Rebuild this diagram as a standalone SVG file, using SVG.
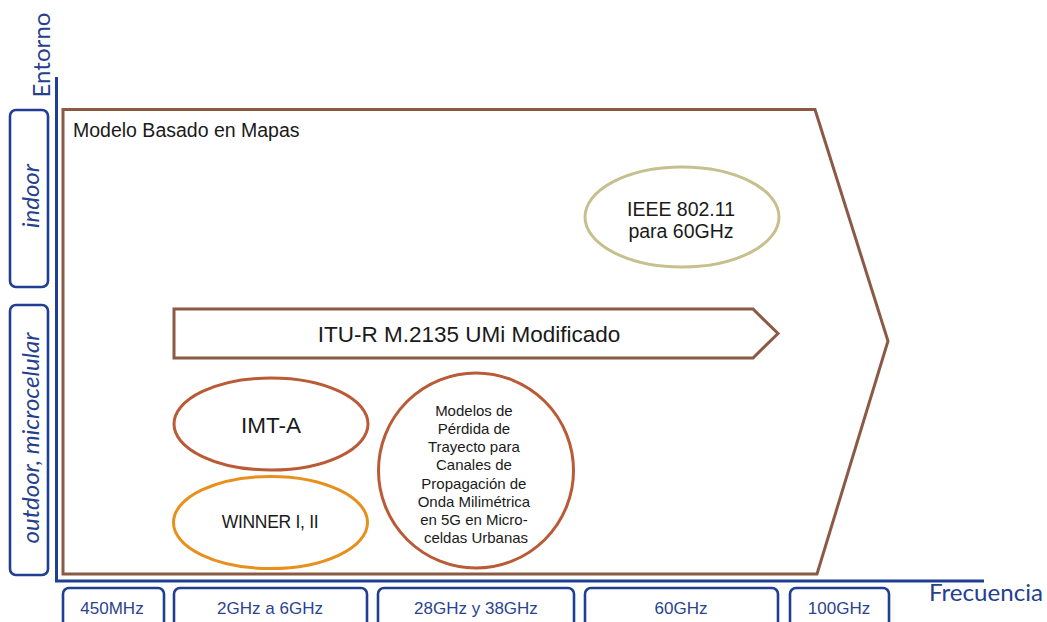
<svg xmlns="http://www.w3.org/2000/svg" width="1047" height="622" viewBox="0 0 1047 622">
<style>
.bl{fill:none;stroke:#213F92;stroke-width:2.6}
.ax{fill:none;stroke:#213F92;stroke-width:3}
.br{fill:#fff;stroke:#8C5A44;stroke-width:3;stroke-linejoin:miter}
.t{font-family:"Liberation Sans",Arial,sans-serif;fill:#1a1a1a;text-anchor:middle}
.ft{font-family:"Liberation Sans",Arial,sans-serif;fill:#2B428F;text-anchor:middle;font-size:17px}
.ax-t{font-family:Lato,"Open Sans",sans-serif;fill:#24408E;text-anchor:middle}
.it{font-family:Lato,"Open Sans",sans-serif;fill:#24408E;text-anchor:middle;font-style:italic;font-size:24px}
</style>
<rect width="1047" height="622" fill="#fff"/>
<g id="axes">
<path class="ax" d="M56.5,77 V581 H984"/>
<text class="ax-t" font-size="23" textLength="85" lengthAdjust="spacingAndGlyphs" transform="translate(50,55) rotate(-90)">Entorno</text>
<text class="ax-t" font-size="23" x="986" y="601" textLength="114" lengthAdjust="spacingAndGlyphs">Frecuencia</text>
</g>
<g id="env-indoor">
<rect class="bl" x="10" y="110" width="38" height="177" rx="6"/>
<text class="it" transform="translate(39,196) rotate(-90)">indoor</text>
</g>
<g id="env-outdoor">
<rect class="bl" x="10" y="305" width="38" height="270" rx="6"/>
<text class="it" transform="translate(39,438) rotate(-90)">outdoor, microcelular</text>
</g>
<g id="freq-450">
<rect class="bl" x="63" y="588" width="101" height="50" rx="6"/>
<text class="ft" x="112" y="614">450MHz</text>
</g>
<g id="freq-2-6">
<rect class="bl" x="174" y="588" width="193" height="50" rx="6"/>
<text class="ft" x="270" y="614">2GHz a 6GHz</text>
</g>
<g id="freq-28-38">
<rect class="bl" x="378" y="588" width="196" height="50" rx="6"/>
<text class="ft" x="476" y="614">28GHz y 38GHz</text>
</g>
<g id="freq-60">
<rect class="bl" x="585" y="588" width="193" height="50" rx="6"/>
<text class="ft" x="681" y="614">60GHz</text>
</g>
<g id="freq-100">
<rect class="bl" x="790" y="588" width="99" height="50" rx="6"/>
<text class="ft" x="839" y="614">100GHz</text>
</g>
<g id="mapas">
<path class="br" d="M63,109.5 H815 L888,341 L817,574 H63 Z"/>
<text class="t" x="73" y="137" font-size="19.5" style="text-anchor:start">Modelo Basado en Mapas</text>
</g>
<g id="ieee">
<ellipse cx="682" cy="217" rx="97" ry="50" fill="#fff" stroke="#C6C08E" stroke-width="3"/>
<text class="t" x="681" y="216" font-size="19.5">IEEE 802.11</text>
<text class="t" x="681" y="238" font-size="19.5">para 60GHz</text>
</g>
<g id="itu">
<path class="br" d="M174,309 H753 L778,333.5 L753,358 H174 Z"/>
<text class="t" x="469" y="342" font-size="22.5">ITU-R M.2135 UMi Modificado</text>
</g>
<g id="imt-a">
<ellipse cx="271" cy="424" rx="97" ry="46" fill="#fff" stroke="#B95B36" stroke-width="3"/>
<text class="t" x="271" y="433" font-size="22.5">IMT-A</text>
</g>
<g id="winner">
<ellipse cx="270.5" cy="522.5" rx="97" ry="46" fill="#fff" stroke="#E8901E" stroke-width="3"/>
<text class="t" x="270" y="528" font-size="17.5" letter-spacing="-0.3">WINNER I, II</text>
</g>
<g id="mmwave">
<ellipse cx="476" cy="470.5" rx="97.5" ry="97.5" fill="#fff" stroke="#B95B36" stroke-width="3"/>
<text class="t" font-size="15">
<tspan x="476" y="416">Modelos de</tspan>
<tspan x="476" y="434">Pérdida de</tspan>
<tspan x="476" y="452.2">Trayecto para</tspan>
<tspan x="476" y="470.4">Canales de</tspan>
<tspan x="476" y="488.6">Propagación de</tspan>
<tspan x="476" y="506.8">Onda Milimétrica</tspan>
<tspan x="476" y="525">en 5G en Micro-</tspan>
<tspan x="476" y="543">celdas Urbanas</tspan>
</text>
</g>
</svg>
